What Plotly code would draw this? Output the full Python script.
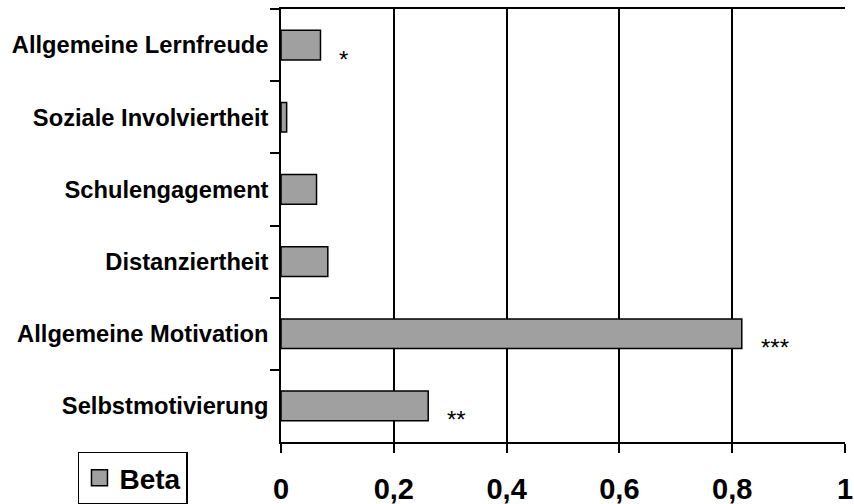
import plotly.graph_objects as go

categories = ["Allgemeine Lernfreude", "Soziale Involviertheit", "Schulengagement",
              "Distanziertheit", "Allgemeine Motivation", "Selbstmotivierung"]
beta = [0.070, 0.010, 0.063, 0.083, 0.817, 0.261]
signif = ["*", "", "", "", "***", "**"]
x_ticks = [0, 0.2, 0.4, 0.6, 0.8, 1]

FONT = "Liberation Sans, Arial, sans-serif"

fig = go.Figure()
fig.add_trace(go.Bar(
    y=categories, x=beta, orientation="h", width=0.41,
    marker=dict(color="#a0a0a0", line=dict(color="black", width=1.5)),
    showlegend=False, name="Beta"))
fig.add_trace(go.Scatter(
    x=[None], y=[None], mode="markers", name="Beta",
    marker=dict(symbol="square", size=20, color="#a0a0a0",
                line=dict(color="black", width=1.5)),
    showlegend=True))

for cat, val, s in zip(categories, beta, signif):
    if s:
        fig.add_annotation(x=val, y=cat, text=s, showarrow=False,
                           xanchor="left", yanchor="middle", xshift=17, yshift=-14,
                           font=dict(family=FONT, size=24, color="black"))

fig.update_layout(
    width=854, height=504,
    margin=dict(l=281, r=9, t=9, b=62, autoexpand=False),
    paper_bgcolor="white", plot_bgcolor="white",
    separators=",.",
    font=dict(family=FONT, color="black"),
    showlegend=True,
    legend=dict(xref="container", yref="container", x=0.0913, y=0.104,
                xanchor="left", yanchor="top",
                bordercolor="black", borderwidth=1.5, bgcolor="white",
                font=dict(family=FONT, size=28, weight="bold", color="black"),
                itemwidth=30, tracegroupgap=0),
)
fig.update_xaxes(
    range=[0, 1], tickvals=x_ticks, ticks="outside", ticklen=9, tickwidth=1.5,
    tickcolor="black", showline=True, linecolor="black", linewidth=1.5, mirror=True,
    showgrid=True, gridcolor="black", gridwidth=1.5, zeroline=False, automargin=False,
    tickfont=dict(family=FONT, size=29, weight="bold", color="black"),
    ticklabelstandoff=11,
)
fig.update_yaxes(
    categoryorder="array", categoryarray=categories, autorange="reversed",
    ticks="outside", tickson="boundaries", ticklen=9, tickwidth=1.5, tickcolor="black",
    showline=True, linecolor="black", linewidth=1.5, showgrid=False, zeroline=False,
    automargin=False, ticklabelstandoff=6,
    tickfont=dict(family=FONT, size=23.7, weight="bold", color="black"),
)

fig.write_html("out.html", config={"displayModeBar": False},
               post_script="document.body.style.margin='0';document.body.style.overflow='hidden';")
